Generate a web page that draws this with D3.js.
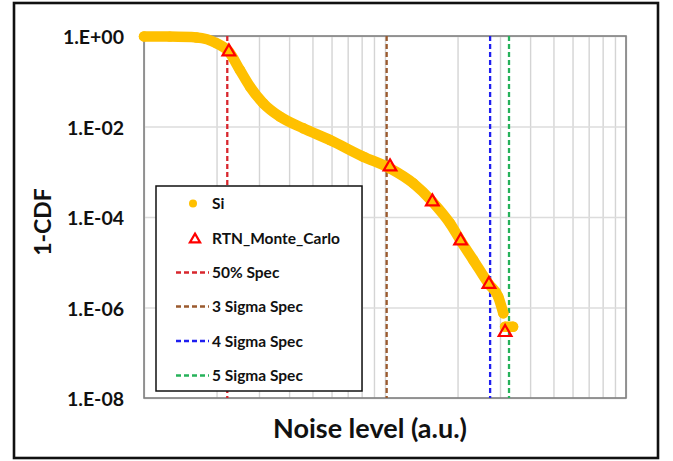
<!DOCTYPE html>
<html>
<head>
<meta charset="utf-8">
<script src="https://cdn.jsdelivr.net/npm/d3@7"></script>
<style>
  body { margin: 0; background: #fff; }
  text { font-family: Lato, "Open Sans", sans-serif; font-weight: bold; fill: #111; }
</style>
</head>
<body>
<div id="chart"></div>
<script>
const width = 673;
const height = 461;

// Si measured curve (noise level, 1-CDF)
const siX = [1.0, 1.28, 1.654, 2.003, 2.25, 2.50, 2.754, 3.126, 3.667, 4.58, 5.91, 8.13, 10.49, 13.1, 15.72, 18.6, 20.6, 23.25, 27.0, 29.5, 30.97];
const siY = [0.98, 0.97, 0.927, 0.69, 0.45, 0.177, 0.0758, 0.0326, 0.0165, 0.00912, 0.00503, 0.00215, 0.00119, 5.56e-4, 2.18e-4, 7.26e-5, 2.99e-5, 1.12e-5, 3.26e-6, 1.73e-6, 7.45e-7];
// detached last piece of the Si curve
const siTailX = [31.5, 34.0];
const siTailY = [3.77e-7, 3.77e-7];

// RTN Monte Carlo points
const mcX = [2.25, 10.49, 15.72, 20.6, 27.0, 31.5];
const mcY = [0.45, 1.29e-3, 2.18e-4, 2.99e-5, 3.26e-6, 2.83e-7];

// spec lines
const specNames = ["50% Spec", "3 Sigma Spec", "4 Sigma Spec", "5 Sigma Spec"];
const specX = [2.216, 10.16, 27.3, 32.7];
const specColors = ["#d8262d", "#9a5a2e", "#1e1ef0", "#26b25a"];

const yTicks = [1, 1e-2, 1e-4, 1e-6, 1e-8];
const yTickLabels = ["1.E+00", "1.E-02", "1.E-04", "1.E-06", "1.E-08"];

const plot = { left: 144, right: 626, top: 36, bottom: 398 };

const svg = d3.select("#chart")
    .append("svg")
    .attr("width", width)
    .attr("height", height);

// outer frame
svg.append("rect")
    .attr("x", 14).attr("y", 3)
    .attr("width", 644).attr("height", 455)
    .attr("fill", "none")
    .attr("stroke", "#111")
    .attr("stroke-width", 2.6);

const x = d3.scaleLog().domain([1, 100]).range([plot.left, plot.right]);
const y = d3.scaleLog().domain([1e-8, 1]).range([plot.bottom, plot.top]);

// vertical grid
svg.append("g")
    .attr("transform", `translate(0,${plot.bottom})`)
    .call(d3.axisBottom(x).tickSize(-(plot.bottom - plot.top)).tickFormat(""))
    .call(g => g.select(".domain").remove())
    .call(g => g.selectAll(".tick line").attr("stroke", "#d4d4d4").attr("stroke-width", 1.4));

// horizontal grid
svg.append("g")
    .attr("transform", `translate(${plot.left},0)`)
    .call(d3.axisLeft(y).tickValues(yTicks).tickSize(-(plot.right - plot.left)).tickFormat(""))
    .call(g => g.select(".domain").remove())
    .call(g => g.selectAll(".tick line").attr("stroke", "#dcdcdc").attr("stroke-width", 1.4));

// y tick labels
svg.append("g")
    .selectAll("text")
    .data(yTicks)
    .enter()
    .append("text")
    .attr("x", 124)
    .attr("y", d => y(d) + 1)
    .attr("dy", "0.36em")
    .attr("text-anchor", "end")
    .style("font-size", "19.5px")
    .text((d, i) => yTickLabels[i]);

// plot border
svg.append("rect")
    .attr("x", plot.left).attr("y", plot.top)
    .attr("width", plot.right - plot.left)
    .attr("height", plot.bottom - plot.top)
    .attr("fill", "none")
    .attr("stroke", "#7f7f7f")
    .attr("stroke-width", 1.6);

// spec lines
svg.append("g")
    .selectAll("line")
    .data(specX)
    .enter()
    .append("line")
    .attr("x1", d => x(d)).attr("x2", d => x(d))
    .attr("y1", plot.top).attr("y2", plot.bottom)
    .attr("stroke", (d, i) => specColors[i])
    .attr("stroke-width", 2.3)
    .attr("stroke-dasharray", "5,3");

// Si curve
const line = d3.line()
    .x(d => x(d[0]))
    .y(d => y(d[1]))
    .curve(d3.curveMonotoneX);

const siPts = siX.map((v, i) => [v, siY[i]]);
const tailPts = siTailX.map((v, i) => [v, siTailY[i]]);

[siPts, tailPts].forEach(pts => {
    svg.append("path")
        .datum(pts)
        .attr("d", line)
        .attr("fill", "none")
        .attr("stroke", "#ffc000")
        .attr("stroke-width", 10.5)
        .attr("stroke-linecap", "round")
        .attr("stroke-linejoin", "round");
});

svg.append("g")
    .selectAll("circle")
    .data(siPts.concat(tailPts))
    .enter()
    .append("circle")
    .attr("cx", d => x(d[0]))
    .attr("cy", d => y(d[1]))
    .attr("r", 5.2)
    .attr("fill", "#ffc000");

// Monte Carlo triangles
const tri = d3.symbol().type(d3.symbolTriangle).size(70);
svg.append("g")
    .selectAll("path")
    .data(mcX)
    .enter()
    .append("path")
    .attr("d", tri)
    .attr("transform", (d, i) => `translate(${x(d)},${y(mcY[i])})`)
    .attr("fill", "none")
    .attr("stroke", "#ff0000")
    .attr("stroke-width", 2.2);

// legend
const legend = svg.append("g");
legend.append("rect")
    .attr("x", 156).attr("y", 186)
    .attr("width", 206).attr("height", 205)
    .attr("fill", "#fff")
    .attr("stroke", "#111")
    .attr("stroke-width", 1.5);

const rowY = [203.5, 238.5, 272.5, 306.5, 341, 375.5];
const textX = 212;

legend.append("circle")
    .attr("cx", 193).attr("cy", rowY[0])
    .attr("r", 4)
    .attr("fill", "#ffc000");
legend.append("path")
    .attr("d", d3.symbol().type(d3.symbolTriangle).size(45))
    .attr("transform", `translate(195,${rowY[1] + 1})`)
    .attr("fill", "none")
    .attr("stroke", "#ff0000")
    .attr("stroke-width", 2.2);

legend.selectAll(".spec")
    .data(specNames)
    .enter()
    .append("line")
    .attr("x1", 176).attr("x2", 209)
    .attr("y1", (d, i) => rowY[i + 2]).attr("y2", (d, i) => rowY[i + 2])
    .attr("stroke", (d, i) => specColors[i])
    .attr("stroke-width", 2.3)
    .attr("stroke-dasharray", "5,3");

legend.selectAll("text")
    .data(["Si", "RTN_Monte_Carlo"].concat(specNames))
    .enter()
    .append("text")
    .attr("x", textX)
    .attr("y", (d, i) => rowY[i])
    .attr("dy", "0.36em")
    .style("font-size", "15.5px")
    .text(d => d);

// axis titles
svg.append("text")
    .attr("x", 370)
    .attr("y", 438)
    .attr("text-anchor", "middle")
    .style("font-size", "27px")
    .text("Noise level (a.u.)");

svg.append("text")
    .attr("transform", "translate(43,222) rotate(-90)")
    .attr("text-anchor", "middle")
    .attr("dy", "0.36em")
    .style("font-size", "23px")
    .text("1-CDF");
</script>
</body>
</html>
